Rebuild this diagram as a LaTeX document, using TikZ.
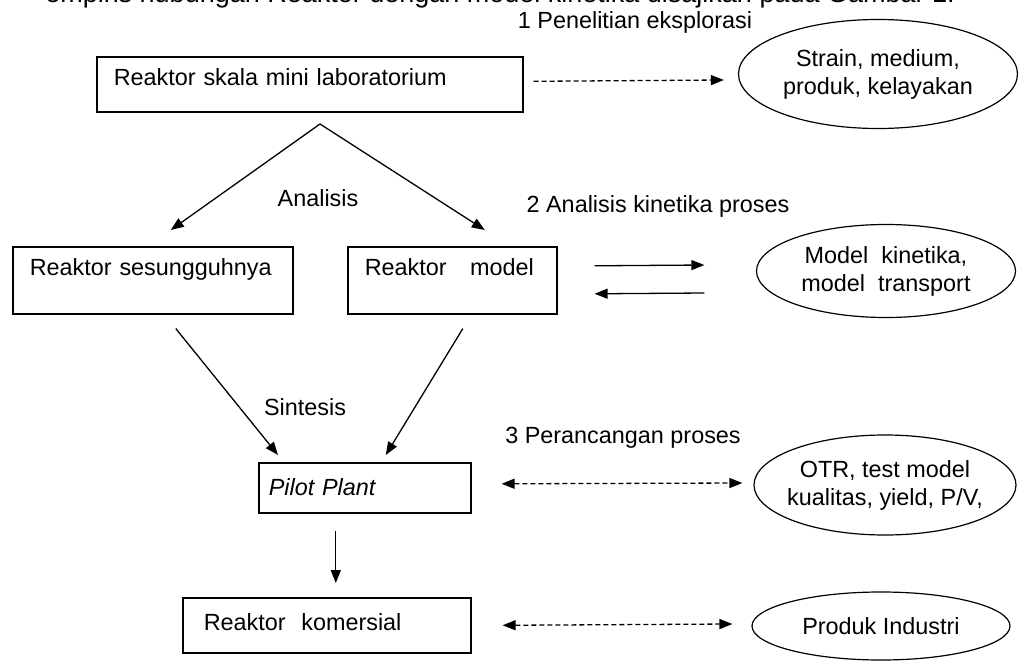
\documentclass[tikz,border=0pt]{standalone}
\usepackage{fontspec}
\setmainfont{Liberation Sans}
\usetikzlibrary{arrows.meta,shapes.geometric}

\tikzset{
  box/.style={draw, rectangle, anchor=north west, align=left, inner xsep=17pt, inner ysep=0pt, line width=1.6pt},
  oval/.style={draw, ellipse, align=center, inner xsep=-30pt, inner ysep=-10pt, line width=1.2pt},
  arr/.style={-{Triangle[length=13pt,width=10pt]}, line width=1.3pt},
  dasharr/.style={arr, dash pattern=on 5pt off 3pt},
  dblarr/.style={{Triangle[length=13pt,width=10pt]}-{Triangle[length=13pt,width=10pt]}, line width=1.3pt, dash pattern=on 5pt off 3pt},
}

\begin{document}
\begin{tikzpicture}[x=1pt,y=-1pt, font=\fontsize{23.4}{28}\selectfont]
\useasboundingbox (0,0) rectangle (1021,661);
\clip (0,0) rectangle (1021,661);
\node[anchor=base east, inner sep=0pt, font=\fontsize{27}{32}\selectfont] (intro) at (955,3) {empiris hubungan Reaktor dengan model kinetika disajikan pada Gambar 1.};

% reaktor
\node[box, text width=392pt, text height=29pt, text depth=26pt] (lab) at (96,56) {Reaktor skala mini laboratorium};
\node[box, text width=246pt, text height=29pt, text depth=38pt] (real) at (12,246) {Reaktor sesungguhnya};
\node[box, text width=175pt, text height=29pt, text depth=38pt] (model) at (347,246) {Reaktor\ \ \ model};
\node[box, inner xsep=10pt, text width=192pt, text height=33pt, text depth=17pt] (pilot) at (258,462) {\textit{Pilot Plant}};
\node[box, inner xsep=21pt, text width=246pt, text height=33pt, text depth=22pt] (komersial) at (182,597) {Reaktor\ \ komersial};

% hasil
\node[oval, minimum width=279pt, minimum height=109pt] (strain) at (878,74) {Strain, medium,\\produk, kelayakan};
\node[oval, minimum width=259pt, minimum height=93pt] (kinet) at (886,271) {Model\ \ kinetika,\\model\ \ transport};
\node[oval, minimum width=262pt, minimum height=100pt] (otr) at (885,485) {OTR, test model\\kualitas, yield, P/V,};
\node[oval, minimum width=258pt, minimum height=68pt] (industri) at (881,626) {Produk Industri};

% label
\node (eksplorasi) at (635,22) {1 Penelitian eksplorasi};
\node (analisis) at (318,198) {Analisis};
\node (kinetika) at (658,206) {2 Analisis kinetika proses};
\node (sintesis) at (305,407) {Sintesis};
\node (rancang) at (623,438) {3 Perancangan proses};

\coordinate (fork) at (320,124);
\draw[arr] (fork) -- ([shift={(18,-16)}]real.north);
\draw[arr] (fork) -- ([shift={(32.5,-16)}]model.north);
\draw[arr] ([shift={(23,14)}]real.south) -- ([shift={(20,-7)}]pilot.north west);
\draw[arr] ([shift={(10.5,14)}]model.south) -- ([shift={(21,-7)}]pilot.north);
\draw[arr] ([shift={(-29,17)}]pilot.south) -- ([shift={(9,-14)}]komersial.north);

\draw[dasharr] ([shift={(10,-3)}]lab.east) -- ([shift={(-14,6)}]strain.west);
\draw[arr] ([shift={(37,-14.5)}]model.east) -- ([shift={(-51.5,-6)}]kinet.west);
\draw[arr] ([shift={(-51.5,22)}]kinet.west) -- ([shift={(37,13.5)}]model.east);
\draw[dblarr] ([shift={(30,-4)}]pilot.east) -- ([shift={(-11,-2)}]otr.west);
\draw[dblarr] ([xshift=31pt]komersial.east) -- ([shift={(-19,-2)}]industri.west);
\end{tikzpicture}
\end{document}
